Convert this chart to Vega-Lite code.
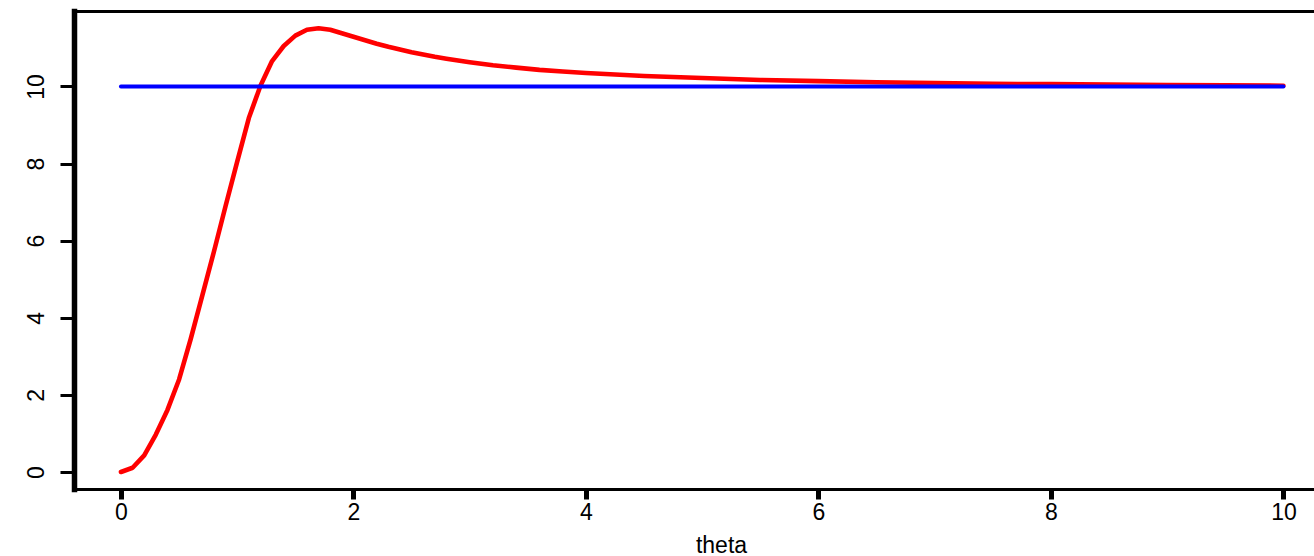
{
  "$schema": "https://vega.github.io/schema/vega-lite/v6.json",
  "width": 1240,
  "height": 478,
  "autosize": {"type": "none"},
  "padding": {"left": 74, "top": 11, "right": 0, "bottom": 67},
  "background": "white",
  "config": {
    "view": {"stroke": null},
    "axis": {
      "grid": false,
      "domainColor": "black",
      "tickColor": "black",
      "labelColor": "black",
      "titleColor": "black",
      "labelFont": "Liberation Sans",
      "titleFont": "Liberation Sans",
      "labelFontSize": 23,
      "titleFontSize": 23,
      "titleFontWeight": "normal",
      "domainCap": "square",
      "labelFlush": false,
      "labelOverlap": false
    }
  },
  "datasets": {
    "curve": [
      {"theta": 0.0, "value": 0.0},
      {"theta": 0.1, "value": 0.11},
      {"theta": 0.2, "value": 0.43},
      {"theta": 0.3, "value": 0.97},
      {"theta": 0.4, "value": 1.61},
      {"theta": 0.5, "value": 2.4},
      {"theta": 0.6, "value": 3.45},
      {"theta": 0.7, "value": 4.58},
      {"theta": 0.8, "value": 5.72},
      {"theta": 0.9, "value": 6.9},
      {"theta": 1.0, "value": 8.05},
      {"theta": 1.1, "value": 9.18},
      {"theta": 1.2, "value": 10.02},
      {"theta": 1.3, "value": 10.66},
      {"theta": 1.4, "value": 11.05},
      {"theta": 1.5, "value": 11.32},
      {"theta": 1.6, "value": 11.47},
      {"theta": 1.7, "value": 11.51},
      {"theta": 1.8, "value": 11.47},
      {"theta": 1.9, "value": 11.38},
      {"theta": 2.0, "value": 11.29},
      {"theta": 2.1, "value": 11.2},
      {"theta": 2.2, "value": 11.11},
      {"theta": 2.3, "value": 11.03},
      {"theta": 2.4, "value": 10.96},
      {"theta": 2.5, "value": 10.89},
      {"theta": 2.6, "value": 10.83},
      {"theta": 2.7, "value": 10.77},
      {"theta": 2.8, "value": 10.72},
      {"theta": 3.0, "value": 10.63},
      {"theta": 3.2, "value": 10.55},
      {"theta": 3.4, "value": 10.49},
      {"theta": 3.6, "value": 10.43},
      {"theta": 3.8, "value": 10.39},
      {"theta": 4.0, "value": 10.35},
      {"theta": 4.5, "value": 10.27},
      {"theta": 5.0, "value": 10.22},
      {"theta": 5.5, "value": 10.17},
      {"theta": 6.0, "value": 10.14},
      {"theta": 6.5, "value": 10.11},
      {"theta": 7.0, "value": 10.09},
      {"theta": 7.5, "value": 10.07},
      {"theta": 8.0, "value": 10.06},
      {"theta": 8.5, "value": 10.05},
      {"theta": 9.0, "value": 10.04},
      {"theta": 9.5, "value": 10.03},
      {"theta": 10.0, "value": 10.02}
    ],
    "level": [
      {"theta": 0, "value": 10},
      {"theta": 10, "value": 10}
    ]
  },
  "layer": [
    {
      "data": {"name": "curve"},
      "mark": {"type": "line", "color": "#ff0000", "strokeWidth": 4.6, "strokeCap": "round", "strokeJoin": "round"},
      "encoding": {
        "x": {
          "field": "theta",
          "type": "quantitative",
          "scale": {"domain": [-0.404, 10.263], "nice": false, "zero": false},
          "axis": {
            "orient": "bottom",
            "values": [0, 2, 4, 6, 8, 10],
            "format": "d",
            "tickSize": 10,
            "tickWidth": 5,
            "domainWidth": 3,
            "labelPadding": 2,
            "title": "theta",
            "titleX": 647,
            "titleY": 63,
            "titleAlign": "center",
            "titleBaseline": "alphabetic"
          }
        },
        "y": {
          "field": "value",
          "type": "quantitative",
          "scale": {"domain": [-0.441, 11.958], "nice": false, "zero": false},
          "axis": {
            "orient": "left",
            "values": [0, 2, 4, 6, 8, 10],
            "format": "d",
            "tickSize": 14,
            "tickWidth": 3,
            "domainWidth": 5.5,
            "labelAngle": -90,
            "labelAlign": "center",
            "labelBaseline": "alphabetic",
            "labelPadding": 17,
            "title": null
          }
        }
      }
    },
    {
      "data": {"name": "level"},
      "mark": {"type": "line", "color": "#0000ff", "strokeWidth": 4, "strokeCap": "round"},
      "encoding": {
        "x": {
          "field": "theta",
          "type": "quantitative",
          "axis": {"orient": "top", "labels": false, "ticks": false, "title": null, "domainWidth": 3}
        },
        "y": {
          "field": "value",
          "type": "quantitative",
          "axis": {
            "orient": "left",
            "values": [0, 2, 4, 6, 8, 10],
            "format": "d",
            "tickSize": 14,
            "tickWidth": 3,
            "domainWidth": 5.5,
            "labelAngle": -90,
            "labelAlign": "center",
            "labelBaseline": "alphabetic",
            "labelPadding": 17,
            "title": null
          }
        }
      }
    }
  ],
  "resolve": {"axis": {"x": "independent"}}
}
